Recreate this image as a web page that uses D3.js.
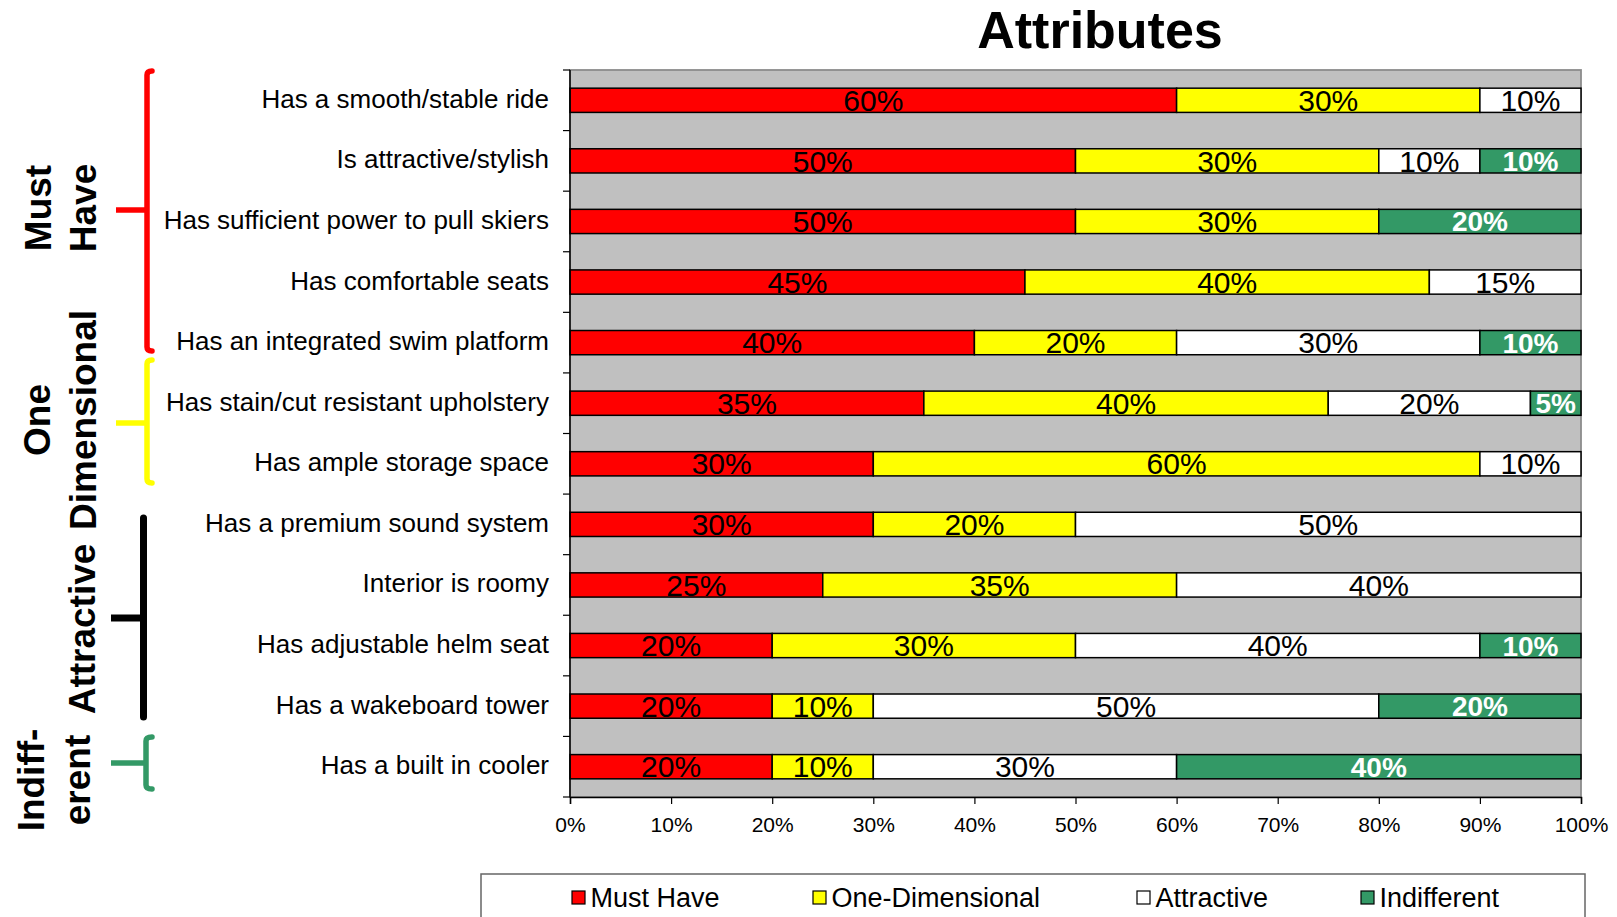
<!DOCTYPE html>
<html><head><meta charset="utf-8">
<script src="https://cdn.jsdelivr.net/npm/d3@7"></script>
<style>
html,body{margin:0;padding:0;background:#fff;}
svg{display:block;font-family:"Liberation Sans",Arial,sans-serif;}
</style></head>
<body>
<svg id="chart" width="1617" height="917"></svg>
<script>
const categories = [
  "Has a smooth/stable ride",
  "Is attractive/stylish",
  "Has sufficient power to pull skiers",
  "Has comfortable seats",
  "Has an integrated swim platform",
  "Has stain/cut resistant upholstery",
  "Has ample storage space",
  "Has a premium sound system",
  "Interior is roomy",
  "Has adjustable helm seat",
  "Has a wakeboard tower",
  "Has a built in cooler"
];
const seriesNames = ["Must Have", "One-Dimensional", "Attractive", "Indifferent"];
const mustHave       = [60, 50, 50, 45, 40, 35, 30, 30, 25, 20, 20, 20];
const oneDimensional = [30, 30, 30, 40, 20, 40, 60, 20, 35, 30, 10, 10];
const attractive     = [10, 10,  0, 15, 30, 20, 10, 50, 40, 40, 50, 30];
const indifferent    = [ 0, 10, 20,  0, 10,  5,  0,  0,  0, 10, 20, 40];
const xTicks = [0, 10, 20, 30, 40, 50, 60, 70, 80, 90, 100];
const groupLabels = [["Must", "Have"], ["One", "Dimensional"], ["Attractive"], ["Indiff-", "erent"]];

const colors = ["#FF0000", "#FFFF00", "#FFFFFF", "#339966"];
const labelFill = ["#000", "#000", "#000", "#fff"];

const svg = d3.select("#chart");
const L = 570, R = 1581, T = 70, B = 797;

const x = d3.scaleLinear().domain([0, 100]).range([L, R]);
const y = d3.scaleBand().domain(categories).range([T, B]).paddingInner(0.6).paddingOuter(0.3);
const step = y.step(), bw = y.bandwidth();

// plot background
svg.append("rect").attr("x", L).attr("y", T).attr("width", R - L).attr("height", B - T)
  .attr("fill", "#C0C0C0").attr("stroke", "#8c8c8c").attr("stroke-width", 1.8);

// stacked data
const data = categories.map((c, i) => ({cat: c, vals: [mustHave[i], oneDimensional[i], attractive[i], indifferent[i]]}));
const segs = [];
data.forEach(d => {
  let acc = 0;
  d.vals.forEach((v, k) => {
    segs.push({cat: d.cat, k, x0: acc, x1: acc + v, v});
    acc += v;
  });
});

const g = svg.append("g");
g.selectAll("rect.seg").data(segs.filter(s => s.v > 0)).join("rect")
  .attr("class", "seg")
  .attr("x", s => x(s.x0)).attr("width", s => x(s.x1) - x(s.x0))
  .attr("y", s => y(s.cat)).attr("height", bw)
  .attr("fill", s => colors[s.k]).attr("stroke", "#000").attr("stroke-width", 1.5);

g.selectAll("text.val").data(segs.filter(s => s.v > 0)).join("text")
  .attr("class", "val")
  .attr("x", s => x((s.x0 + s.x1) / 2))
  .attr("y", s => y(s.cat) + bw / 2 + (s.k === 3 ? 10 : 10.7))
  .attr("text-anchor", "middle")
  .attr("font-size", s => s.k === 3 ? 28 : 30)
  .attr("font-weight", s => s.k === 3 ? "bold" : "normal")
  .attr("fill", s => labelFill[s.k])
  .text(s => s.v + "%");

// left axis
svg.append("line").attr("x1", L).attr("x2", L).attr("y1", T).attr("y2", B).attr("stroke", "#000").attr("stroke-width", 1.5);
const bounds = d3.range(categories.length + 1).map(i => T + i * step);
svg.selectAll("line.ytick").data(bounds).join("line").attr("class", "ytick")
  .attr("x1", L - 7).attr("x2", L).attr("y1", d => d).attr("y2", d => d)
  .attr("stroke", "#000").attr("stroke-width", 1.2);

svg.selectAll("text.cat").data(categories).join("text").attr("class", "cat")
  .attr("x", 549).attr("y", c => y(c) + bw / 2 + 7.5)
  .attr("text-anchor", "end").attr("font-size", 26).attr("fill", "#000")
  .text(c => c);

// bottom axis
const xAxis = d3.axisBottom(x).tickValues(xTicks).tickFormat(d => d + "%").tickSize(7).tickPadding(13);
const ax = svg.append("g").attr("transform", `translate(0,${B})`).call(xAxis);
ax.select(".domain").attr("stroke", "#000").attr("stroke-width", 1.5);
ax.selectAll(".tick line").attr("stroke", "#000").attr("stroke-width", 1.2);
ax.selectAll(".tick text").attr("font-size", 21).attr("font-family", "'Liberation Sans',Arial,sans-serif").attr("fill", "#000");

// title
svg.append("text").attr("x", 1100).attr("y", 48).attr("text-anchor", "middle")
  .attr("font-size", 52).attr("font-weight", "bold").text("Attributes");

// brackets (annotations)
const br = [
  {color: "#FF0000", w: 5.5, x: 147, y0: 71, y1: 351, ym: 210, xm: 116, hook: 5},
  {color: "#FFFF00", w: 5.5, x: 147, y0: 360, y1: 483, ym: 423, xm: 116, hook: 5},
  {color: "#000000", w: 7, x: 143.5, y0: 518, y1: 717, ym: 618, xm: 111, hook: 0},
  {color: "#339966", w: 5.5, x: 146, y0: 737, y1: 789, ym: 763, xm: 111, hook: 6}
];
br.forEach(b => {
  const p = b.hook > 0
    ? `M${b.x + b.hook},${b.y0} Q${b.x},${b.y0} ${b.x},${b.y0 + 4} L${b.x},${b.y1 - 4} Q${b.x},${b.y1} ${b.x + b.hook},${b.y1}`
    : `M${b.x},${b.y0} L${b.x},${b.y1}`;
  svg.append("path").attr("d", p).attr("fill", "none").attr("stroke", b.color)
    .attr("stroke-width", b.w).attr("stroke-linecap", "round").attr("stroke-linejoin", "round");
  svg.append("line").attr("x1", b.xm).attr("x2", b.x).attr("y1", b.ym).attr("y2", b.ym)
    .attr("stroke", b.color).attr("stroke-width", b.w);
});

// group labels (rotated)
const gl = [
  {lines: groupLabels[0], xs: [51, 96], cy: 208},
  {lines: groupLabels[1], xs: [50, 96], cy: 420},
  {lines: groupLabels[2], xs: [95], cy: 629},
  {lines: groupLabels[3], xs: [44, 90], cy: 780}
];
gl.forEach(o => {
  o.lines.forEach((t, i) => {
    svg.append("text").attr("transform", `translate(${o.xs[i]},${o.cy}) rotate(-90)`)
      .attr("text-anchor", "middle").attr("font-size", 37).attr("font-weight", "bold")
      .attr("fill", "#000").text(t);
  });
});

// legend
svg.append("rect").attr("x", 481).attr("y", 874).attr("width", 1104).attr("height", 60)
  .attr("fill", "#fff").attr("stroke", "#666").attr("stroke-width", 1.5);
const legX = [572, 813, 1137, 1361];
seriesNames.forEach((n, k) => {
  svg.append("rect").attr("x", legX[k]).attr("y", 891).attr("width", 13).attr("height", 13)
    .attr("fill", colors[k]).attr("stroke", "#000").attr("stroke-width", 1.2);
  svg.append("text").attr("x", legX[k] + 18.5).attr("y", 907).attr("font-size", 27).attr("fill", "#000").text(n);
});
</script>
</body></html>
